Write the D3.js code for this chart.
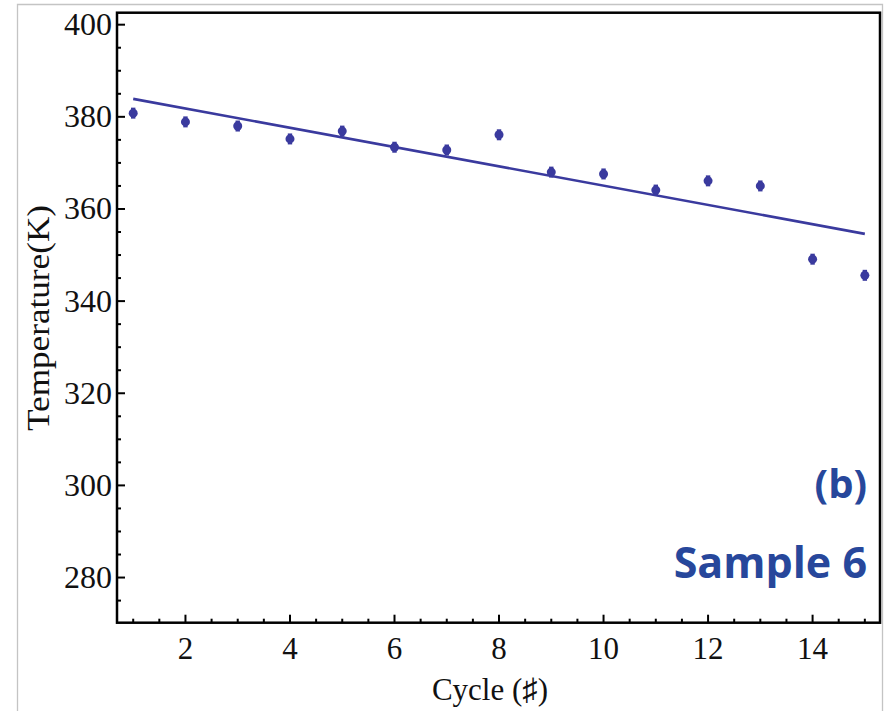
<!DOCTYPE html>
<html><head><meta charset="utf-8">
<script src="https://cdn.jsdelivr.net/npm/d3@7"></script>
<style>body{margin:0;background:#fff;} svg{display:block;}</style>
</head><body>
<script>
const cycles = [1,2,3,4,5,6,7,8,9,10,11,12,13,14,15];
const temps  = [380.8,378.9,378.0,375.2,376.9,373.4,372.8,376.1,368.0,367.6,364.1,366.1,365.0,349.1,345.6];
const fitX = [1, 15];
const fitY = [383.9, 354.6];
const xMajorTicks = [2,4,6,8,10,12,14];
const yMajorTicks = [280,300,320,340,360,380,400];
const xLabel = "Cycle (\u266F)";
const yLabel = "Temperature(K)";
const notes = ["(b)", "Sample 6"];

const W = 891, H = 711;
const L = 117, R = 880, T = 12.7, B = 622.7;
const svg = d3.select("body").append("svg").attr("width", W).attr("height", H);

// outer light frame
svg.append("path").attr("d", `M17.5,${H+2}V4.5H882.5V${H+2}`).attr("fill","none").attr("stroke","#c4c4c4").attr("stroke-width",1.3);

const x = d3.scaleLinear().domain([0.69, 15.29]).range([L, R]);
const y = d3.scaleLinear().domain([270.2, 402.6]).range([B, T]);

const serif = "'Liberation Serif','Times New Roman',serif";

// minor ticks
const xMinor = d3.range(1, 15.01, 0.5).filter(v => !xMajorTicks.includes(v));
const yMinor = d3.range(275, 400, 5).filter(v => !yMajorTicks.includes(v));

const g = svg.append("g");
g.selectAll(".xmin").data(xMinor).join("line")
  .attr("x1", d=>x(d)).attr("x2", d=>x(d)).attr("y1", B).attr("y2", B-4)
  .attr("stroke","#000").attr("stroke-width",2);
g.selectAll(".xmaj").data(xMajorTicks).join("line")
  .attr("x1", d=>x(d)).attr("x2", d=>x(d)).attr("y1", B).attr("y2", B-8)
  .attr("stroke","#000").attr("stroke-width",2);
g.selectAll(".ymin").data(yMinor).join("line")
  .attr("y1", d=>y(d)).attr("y2", d=>y(d)).attr("x1", L).attr("x2", L+4)
  .attr("stroke","#000").attr("stroke-width",2);
g.selectAll(".ymaj").data(yMajorTicks).join("line")
  .attr("y1", d=>y(d)).attr("y2", d=>y(d)).attr("x1", L).attr("x2", L+8)
  .attr("stroke","#000").attr("stroke-width",2);

// tick labels
g.selectAll(".xl").data(xMajorTicks).join("text")
  .attr("x", d=>x(d)).attr("y", 659).attr("text-anchor","middle")
  .attr("font-family", serif).attr("font-size", 31).attr("fill","#111").text(d=>d);
g.selectAll(".yl").data(yMajorTicks).join("text")
  .attr("x", L-5).attr("y", d=>y(d)+10.5).attr("text-anchor","end")
  .attr("font-family", serif).attr("font-size", 32).attr("fill","#111").text(d=>d);

// frame
svg.append("rect").attr("x", L).attr("y", T).attr("width", R-L).attr("height", B-T)
  .attr("fill","none").attr("stroke","#000").attr("stroke-width",2.5);

// axis labels
svg.append("text").attr("x", 490).attr("y", 700).attr("text-anchor","middle")
  .attr("font-family", serif).attr("font-size", 31).attr("fill","#111").text(xLabel);
svg.append("text").attr("transform", `translate(49,318) rotate(-90)`).attr("text-anchor","middle")
  .attr("font-family", serif).attr("font-size", 31).attr("fill","#111")
  .attr("textLength", 226).attr("lengthAdjust","spacingAndGlyphs").text(yLabel);

// fit line
const blue = "#3a3a9e";
svg.append("path").datum(fitX.map((d,i)=>[d, fitY[i]]))
  .attr("d", d3.line().x(d=>x(d[0])).y(d=>y(d[1])))
  .attr("fill","none").attr("stroke", blue).attr("stroke-width",2.6);

// points
const pts = svg.append("g").selectAll("g").data(cycles.map((c,i)=>[c,temps[i]])).join("g");
pts.append("line").attr("x1", d=>x(d[0])).attr("x2", d=>x(d[0]))
  .attr("y1", d=>y(d[1])-5.5).attr("y2", d=>y(d[1])+5.5)
  .attr("stroke", blue).attr("stroke-width",4.4);
pts.append("circle").attr("cx", d=>x(d[0])).attr("cy", d=>y(d[1])).attr("r",4.5).attr("fill", blue);

// annotations
const noteColor = "#27479b";
svg.append("text").attr("x", 867).attr("y", 498).attr("text-anchor","end")
  .attr("font-family","'Open Sans',sans-serif").attr("font-weight",700).attr("font-size",40)
  .attr("fill", noteColor).text(notes[0]);
svg.append("text").attr("x", 867).attr("y", 578).attr("text-anchor","end")
  .attr("font-family","'Open Sans',sans-serif").attr("font-weight",700).attr("font-size",43)
  .attr("fill", noteColor).text(notes[1]);
</script>
</body></html>
